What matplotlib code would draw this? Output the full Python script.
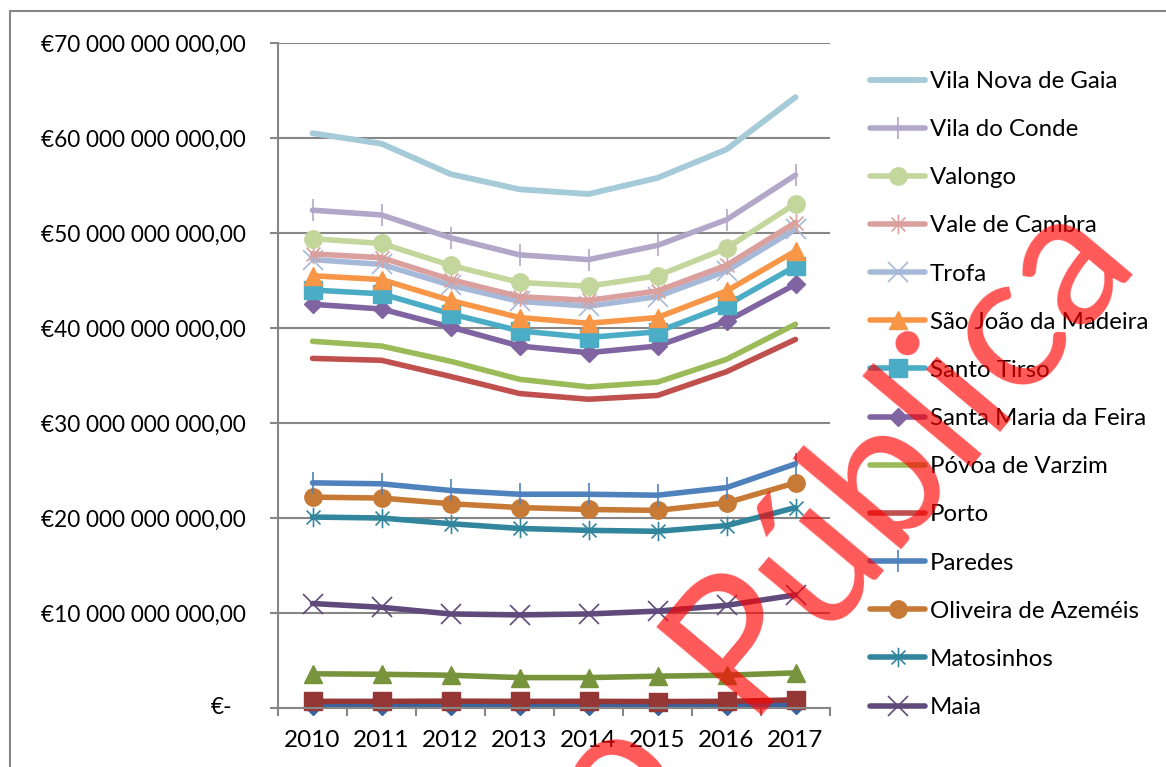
import matplotlib

matplotlib.use("Agg")
import matplotlib.pyplot as plt
from matplotlib.patches import Rectangle
from matplotlib.path import Path
from matplotlib.ticker import FixedLocator, FuncFormatter

plt.rcParams["font.family"] = ["Lato", "DejaVu Sans"]

years = ["2010", "2011", "2012", "2013", "2014", "2015", "2016", "2017"]

# values in thousand millions of euro
vila_nova_de_gaia = [60.5, 59.4, 56.2, 54.6, 54.1, 55.8, 58.8, 64.3]
vila_do_conde = [52.4, 51.9, 49.5, 47.7, 47.2, 48.7, 51.4, 56.1]
valongo = [49.4, 48.9, 46.6, 44.8, 44.4, 45.5, 48.4, 53.1]
vale_de_cambra = [47.8, 47.4, 45.1, 43.3, 42.9, 43.9, 46.6, 51.1]
trofa = [47.2, 46.7, 44.5, 42.8, 42.3, 43.3, 46.0, 50.4]
sao_joao_da_madeira = [45.5, 45.1, 42.9, 41.1, 40.5, 41.1, 43.9, 48.1]
santo_tirso = [44.0, 43.6, 41.5, 39.7, 39.0, 39.6, 42.4, 46.5]
santa_maria_da_feira = [42.5, 42.0, 40.1, 38.1, 37.4, 38.1, 40.7, 44.6]
povoa_de_varzim = [38.6, 38.1, 36.5, 34.6, 33.8, 34.3, 36.7, 40.4]
porto = [36.8, 36.6, 34.9, 33.1, 32.5, 32.9, 35.4, 38.8]
paredes = [23.7, 23.6, 22.9, 22.5, 22.5, 22.4, 23.2, 25.7]
oliveira_de_azemeis = [22.2, 22.1, 21.5, 21.1, 20.9, 20.8, 21.6, 23.7]
matosinhos = [20.1, 20.0, 19.4, 18.9, 18.7, 18.6, 19.2, 21.1]
maia = [11.0, 10.6, 9.9, 9.8, 9.9, 10.2, 10.8, 11.9]
# three series whose legend entries are cut off in the original
hidden_3 = [3.6, 3.55, 3.45, 3.2, 3.2, 3.35, 3.45, 3.7]
hidden_2 = [0.7, 0.7, 0.72, 0.7, 0.7, 0.68, 0.7, 0.85]
hidden_1 = [0.25, 0.25, 0.26, 0.25, 0.25, 0.25, 0.26, 0.3]

star = Path(
    [(-0.5, -0.5), (0.5, 0.5), (-0.5, 0.5), (0.5, -0.5), (0, -0.7), (0, 0.7)],
    [Path.MOVETO, Path.LINETO, Path.MOVETO, Path.LINETO, Path.MOVETO, Path.LINETO],
)

# drawn in Excel series order (first = bottom of the z-stack)
series = [
    (None, hidden_1, "#3A64A0", "D", 9),
    (None, hidden_2, "#953735", "s", 12.5),
    (None, hidden_3, "#77933C", "^", 13),
    ("Maia", maia, "#604A7B", "x", 14),
    ("Matosinhos", matosinhos, "#31859C", star, 14),
    ("Oliveira de Azeméis", oliveira_de_azemeis, "#C77A36", "o", 12.5),
    ("Paredes", paredes, "#4F81BD", "|", 16),
    ("Porto", porto, "#C0504D", None, 0),
    ("Póvoa de Varzim", povoa_de_varzim, "#9BBB59", None, 0),
    ("Santa Maria da Feira", santa_maria_da_feira, "#8064A2", "D", 9),
    ("Santo Tirso", santo_tirso, "#4BACC6", "s", 12.5),
    ("São João da Madeira", sao_joao_da_madeira, "#F79646", "^", 13),
    ("Trofa", trofa, "#A7B9D9", "x", 14),
    ("Vale de Cambra", vale_de_cambra, "#D9A09E", star, 14),
    ("Valongo", valongo, "#C3D69B", "o", 12.5),
    ("Vila do Conde", vila_do_conde, "#B3A7C9", "|", 16),
    ("Vila Nova de Gaia", vila_nova_de_gaia, "#A5CAD8", None, 0),
]

W, H = 1166, 767
fig = plt.figure(figsize=(W / 100, H / 100), dpi=100)
ax = fig.add_axes([278 / W, 59 / H, 552 / W, 665 / H])

x = list(range(len(years)))
handles = {}
for name, vals, color, marker, ms in series:
    thin = marker in ("x", "|") or marker is star
    (line,) = ax.plot(
        x,
        [v * 1e9 for v in vals],
        color=color,
        lw=4.2 if name == "Vila Nova de Gaia" else 4,
        marker=marker,
        markersize=ms,
        markerfacecolor=color,
        markeredgecolor=color,
        markeredgewidth=1.2 if thin else 1,
        solid_capstyle="round",
        solid_joinstyle="round",
        clip_on=False,
    )
    if name:
        handles[name] = line

ax.set_xlim(-0.5, 7.5)
ax.set_ylim(0, 70e9)
ax.xaxis.set_major_locator(FixedLocator([i - 0.5 for i in range(9)]))
ax.xaxis.set_major_formatter(FuncFormatter(lambda v, p: ""))
ax.xaxis.set_minor_locator(FixedLocator(x))
ax.set_xticklabels(years, minor=True)
ax.tick_params(axis="x", which="major", length=6, width=1.5, color="#868686")
ax.tick_params(axis="x", which="minor", length=0, pad=16, labelsize=17.5)

ax.yaxis.set_major_locator(FixedLocator([i * 10e9 for i in range(8)]))
ax.yaxis.set_major_formatter(
    FuncFormatter(lambda v, p: "" if v == 0 else "€" + f"{int(round(v)):,}".replace(",", " ") + ",00")
)
ax.tick_params(axis="y", length=6, width=1.5, color="#868686", pad=17, labelsize=16.3)
ax.annotate("€-", xy=(0, 0), xycoords=("axes fraction", "data"), xytext=(-33, 0),
            textcoords="offset points", ha="right", va="center", fontsize=16.3)

ax.grid(axis="y", color="#868686", lw=1.5)
ax.set_axisbelow(True)
for side in ("top", "right"):
    ax.spines[side].set_visible(False)
for side in ("left", "bottom"):
    ax.spines[side].set_color("#868686")
    ax.spines[side].set_linewidth(1.5)

order = [
    "Vila Nova de Gaia", "Vila do Conde", "Valongo", "Vale de Cambra", "Trofa",
    "São João da Madeira", "Santo Tirso", "Santa Maria da Feira", "Póvoa de Varzim",
    "Porto", "Paredes", "Oliveira de Azeméis", "Matosinhos", "Maia",
]
ax.legend(
    [handles[n] for n in order], order,
    loc="upper left", bbox_to_anchor=(870 / W, 1 - 71 / H), bbox_transform=fig.transFigure,
    frameon=False, fontsize=17.3, handlelength=2.3, handletextpad=0.18,
    labelspacing=1.13, borderpad=0, borderaxespad=0,
)

fig.add_artist(Rectangle((10 / W, -0.1), 2, 1.1 - 11 / H, transform=fig.transFigure,
                         fill=False, edgecolor="#868686", lw=1.5))

fig.text(745 / W, 1 - 716 / H, "Pública", rotation=50, rotation_mode="anchor",
         ha="left", va="baseline", fontsize=138, color="red", alpha=0.65, zorder=10)
fig.text(694 / W, 1 - 778 / H, "Versão", rotation=50, rotation_mode="anchor",
         ha="right", va="baseline", fontsize=138, color="red", alpha=0.65, zorder=10)

fig.savefig("out.png", dpi=100)
